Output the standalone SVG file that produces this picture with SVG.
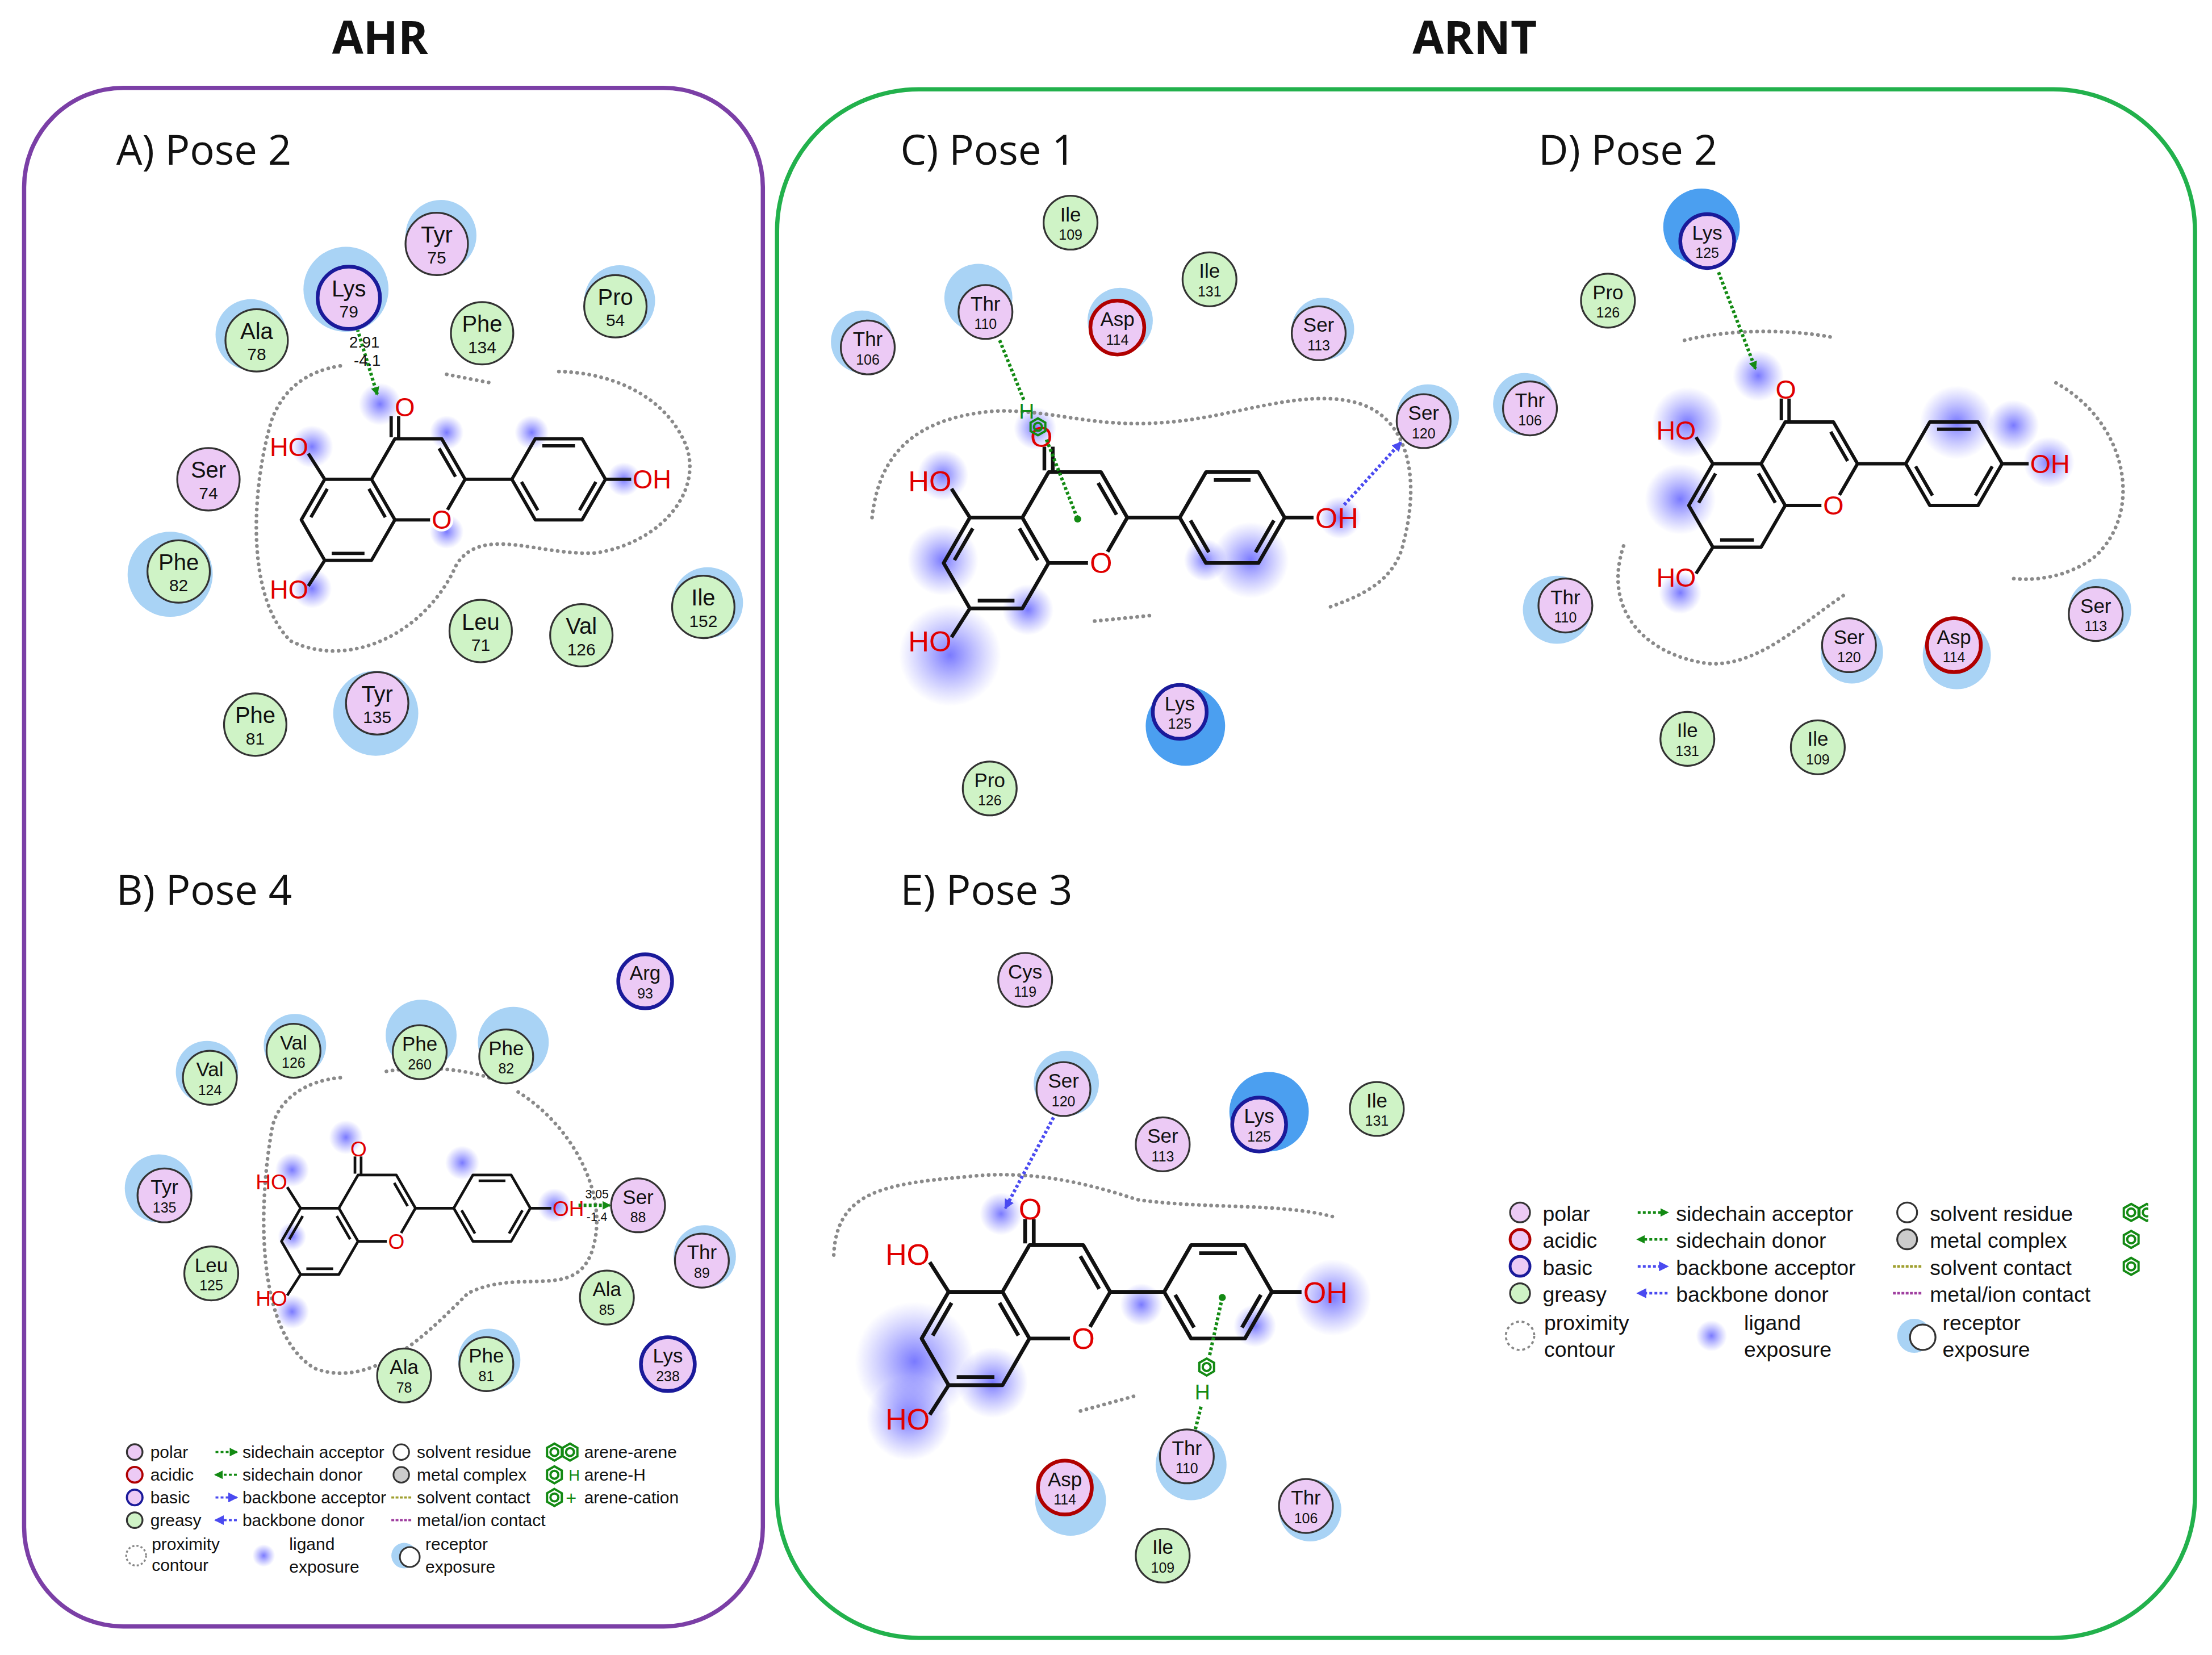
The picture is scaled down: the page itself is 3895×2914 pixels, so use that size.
<svg xmlns="http://www.w3.org/2000/svg" xmlns:xlink="http://www.w3.org/1999/xlink" width="3895" height="2914" viewBox="0 0 3895 2914">
<style>
.pol{fill:#eccaf5;stroke:#333;stroke-width:1.3}
.grs{fill:#cff3c6;stroke:#333;stroke-width:1.3}
.bas{fill:#eccaf5;stroke:#1a1a9a;stroke-width:2.6}
.acd{fill:#eccaf5;stroke:#b00000;stroke-width:2.6}
.exp{fill:#a9d3f5}
.expb{fill:#4b9ff0}
.rn{font-family:"Liberation Sans",Arial,sans-serif;text-anchor:middle;fill:#111}
.t{font-family:"Liberation Sans",Arial,sans-serif;fill:#111}
.h{font-family:"Open Sans","Liberation Sans",sans-serif;fill:#111}
.ml{font-family:"Liberation Sans",Arial,sans-serif;font-size:0.55px;fill:#e00000}
.cont{fill:none;stroke:#8a8a8a;stroke-width:2.6;stroke-dasharray:0.1 4.2;stroke-linecap:round}
.ga{fill:none;stroke:#138a13;stroke-width:2.4;stroke-dasharray:2 1.6}
.ba{fill:none;stroke:#4a4af0;stroke-width:2.4;stroke-dasharray:2 1.6}
</style>
<defs>
<radialGradient id="lex"><stop offset="0" stop-color="#4040ff" stop-opacity="0.7"/><stop offset="1" stop-color="#6060ff" stop-opacity="0"/></radialGradient>
<marker id="mg" markerWidth="6" markerHeight="6" refX="5" refY="3" orient="auto" markerUnits="userSpaceOnUse"><path d="M0,0 L6,3 L0,6 Z" fill="#138a13"/></marker>
<marker id="mb" markerWidth="7" markerHeight="7" refX="6" refY="3.5" orient="auto" markerUnits="userSpaceOnUse"><path d="M0,0 L7,3.5 L0,7 Z" fill="#4a4af0"/></marker>
<g id="mol" fill="none" stroke="#111" stroke-width="0.07" stroke-linejoin="round">
<path d="M-0.5,-0.866 L0.5,-0.866 L1,0 L0.5,0.866 L-0.5,0.866 L-1,0 Z M-1,0 L-2,0 L-2.5,0.866 L-2,1.732 L-1,1.732 L-0.5,0.866 M1,0 L2,0 M2,0 L2.5,-0.866 L3.5,-0.866 L4,0 L3.5,0.866 L2.5,0.866 Z M4,0 L4.55,0 M-2,0 L-2.35,-0.55 M-2,1.732 L-2.35,2.28 M-0.58,-0.9 L-0.58,-1.35 M-0.42,-0.9 L-0.42,-1.35 M-1.945,0.205 L-2.295,0.811 M-1.85,1.582 L-1.15,1.582 M-1.055,0.205 L-0.705,0.811 M0.795,-0.055 L0.445,-0.661 M2.65,-0.716 L3.35,-0.716 M3.795,0.055 L3.445,0.661 M2.555,0.661 L2.205,0.055"/>
<circle cx="0.5" cy="0.866" r="0.25" fill="#fff" stroke="none"/>
</g>
<g id="ar" fill="none" stroke="#138a13" stroke-width="1.6"><polygon points="0,-6 5.2,-3 5.2,3 0,6 -5.2,3 -5.2,-3"/><circle r="2.8"/></g>
<clipPath id="legclip"><rect x="1490" y="840" width="25" height="70"/></clipPath>
</defs>
<g transform="scale(2.4968)">
<g id="frames">
<rect x="17" y="62" width="521" height="1085" rx="70" fill="none" stroke="#7b3fa6" stroke-width="3"/>
<rect x="548" y="63" width="1000" height="1092" rx="100" fill="none" stroke="#22b14c" stroke-width="3"/>
<text class="h" x="268" y="38" font-size="32" font-weight="bold" text-anchor="middle">AHR</text>
<text class="h" x="1040" y="38" font-size="32" font-weight="bold" text-anchor="middle">ARNT</text>
<text class="h" x="82" y="116" font-size="29">A) Pose 2</text>
<text class="h" x="82" y="638" font-size="29">B) Pose 4</text>
<text class="h" x="635" y="116" font-size="29">C) Pose 1</text>
<text class="h" x="1085" y="116" font-size="29">D) Pose 2</text>
<text class="h" x="635" y="638" font-size="29">E) Pose 3</text>
</g>
<g id="exposure">
<circle cx="268" cy="285" r="15" fill="url(#lex)"/><circle cx="220" cy="315" r="15" fill="url(#lex)"/><circle cx="220" cy="415" r="14" fill="url(#lex)"/><circle cx="315" cy="305" r="12" fill="url(#lex)"/><circle cx="375" cy="305" r="12" fill="url(#lex)"/><circle cx="440" cy="338" r="12" fill="url(#lex)"/><circle cx="315" cy="375" r="12" fill="url(#lex)"/>
<circle cx="244" cy="802" r="12" fill="url(#lex)"/><circle cx="206" cy="825" r="12" fill="url(#lex)"/><circle cx="206" cy="925" r="12" fill="url(#lex)"/><circle cx="326" cy="820" r="12" fill="url(#lex)"/><circle cx="391" cy="850" r="12" fill="url(#lex)"/><circle cx="206" cy="872" r="10" fill="url(#lex)"/>
<circle cx="670" cy="462" r="36" fill="url(#lex)"/><circle cx="665" cy="395" r="25" fill="url(#lex)"/><circle cx="665" cy="335" r="18" fill="url(#lex)"/><circle cx="730" cy="302" r="15" fill="url(#lex)"/><circle cx="882" cy="395" r="27" fill="url(#lex)"/><circle cx="850" cy="395" r="15" fill="url(#lex)"/><circle cx="945" cy="365" r="15" fill="url(#lex)"/><circle cx="725" cy="430" r="18" fill="url(#lex)"/>
<circle cx="1190" cy="298" r="25" fill="url(#lex)"/><circle cx="1185" cy="352" r="25" fill="url(#lex)"/><circle cx="1185" cy="418" r="15" fill="url(#lex)"/><circle cx="1240" cy="265" r="18" fill="url(#lex)"/><circle cx="1380" cy="298" r="26" fill="url(#lex)"/><circle cx="1420" cy="300" r="18" fill="url(#lex)"/><circle cx="1445" cy="326" r="18" fill="url(#lex)"/>
<circle cx="645" cy="960" r="42" fill="url(#lex)"/><circle cx="641" cy="1000" r="30" fill="url(#lex)"/><circle cx="700" cy="975" r="25" fill="url(#lex)"/><circle cx="706" cy="856" r="15" fill="url(#lex)"/><circle cx="940" cy="915" r="27" fill="url(#lex)"/><circle cx="805" cy="920" r="15" fill="url(#lex)"/><circle cx="885" cy="935" r="15" fill="url(#lex)"/>
</g>
<g id="contours">
<path class="cont" d="M240,258 C215,262 200,275 192,295 C178,340 172,420 205,452 C245,472 300,448 322,398 C340,370 380,392 420,390 C470,382 498,342 482,310 C465,275 425,262 392,262"/>
<path class="cont" d="M315,264 L346,270"/>
<path class="cont" d="M240,760 C215,762 196,776 192,795 C182,850 180,940 222,965 C262,980 300,942 330,912 C370,892 412,922 420,872 C426,835 400,790 362,768"/>
<path class="cont" d="M345,760 C320,752 290,752 270,756"/>
<path class="cont" d="M615,365 C620,320 645,295 700,290 C740,288 770,302 820,298 C870,295 920,272 960,285 C992,296 1002,335 990,382 C984,410 960,420 938,428"/>
<path class="cont" d="M772,438 L812,434"/>
<path class="cont" d="M1188,240 C1220,232 1262,232 1293,238"/>
<path class="cont" d="M1145,385 C1130,430 1160,462 1205,468 C1240,470 1270,440 1300,420"/>
<path class="cont" d="M1450,270 C1500,298 1512,360 1478,392 C1462,405 1440,410 1420,408"/>
<path class="cont" d="M588,885 C590,842 620,835 680,830 C722,825 760,832 802,846 C852,853 902,848 940,858"/>
<path class="cont" d="M762,995 L802,984"/>
</g>
<g id="ligA" transform="translate(295,338) scale(33)"><use xlink:href="#mol"/>
<text class="ml" x="-0.5" y="-1.35">O</text><text class="ml" x="0.5" y="1.06" text-anchor="middle">O</text><text class="ml" x="-2.35" y="-0.5" text-anchor="end">HO</text><text class="ml" x="-2.35" y="2.55" text-anchor="end">HO</text><text class="ml" x="4.58" y="0.2">OH</text></g>
<g id="ligB" transform="translate(266,852) scale(27)"><use xlink:href="#mol"/>
<text class="ml" x="-0.7" y="-1.35">O</text><text class="ml" x="0.5" y="1.06" text-anchor="middle">O</text><text class="ml" x="-2.35" y="-0.5" text-anchor="end">HO</text><text class="ml" x="-2.35" y="2.55" text-anchor="end">HO</text><text class="ml" x="4.58" y="0.2">OH</text></g>
<g id="ligC" transform="translate(758,365) scale(37)"><use xlink:href="#mol"/>
<text class="ml" x="-0.85" y="-1.35">O</text><text class="ml" x="0.5" y="1.06" text-anchor="middle">O</text><text class="ml" x="-2.35" y="-0.5" text-anchor="end">HO</text><text class="ml" x="-2.35" y="2.55" text-anchor="end">HO</text><text class="ml" x="4.58" y="0.2">OH</text></g>
<g id="ligD" transform="translate(1276,327) scale(34)"><use xlink:href="#mol"/>
<text class="ml" x="-0.7" y="-1.35">O</text><text class="ml" x="0.5" y="1.06" text-anchor="middle">O</text><text class="ml" x="-2.35" y="-0.5" text-anchor="end">HO</text><text class="ml" x="-2.35" y="2.55" text-anchor="end">HO</text><text class="ml" x="4.58" y="0.2">OH</text></g>
<g id="ligE" transform="translate(745,911) scale(38)"><use xlink:href="#mol"/>
<text class="ml" x="-0.7" y="-1.35">O</text><text class="ml" x="0.5" y="1.06" text-anchor="middle">O</text><text class="ml" x="-2.35" y="-0.5" text-anchor="end">HO</text><text class="ml" x="-2.35" y="2.55" text-anchor="end">HO</text><text class="ml" x="4.58" y="0.2">OH</text></g>
<g id="connectors">
<path class="ga" d="M252,232 L266,278" marker-end="url(#mg)"/>
<text class="t" x="257" y="245" font-size="11" text-anchor="middle">2.91</text><text class="t" x="259" y="258" font-size="11" text-anchor="middle">-4.1</text>
<path class="ga" d="M408,850 L430,850" marker-end="url(#mg)"/>
<text class="t" x="421" y="845" font-size="8.5" text-anchor="middle">3.05</text><text class="t" x="421" y="861" font-size="8.5" text-anchor="middle">-1.4</text>
<path class="ga" d="M705,240 L722,282"/>
<text class="t" x="724" y="295" font-size="15" text-anchor="middle" style="fill:#138a13">H</text>
<use xlink:href="#ar" x="732" y="301"/>
<path class="ga" d="M738,310 L760,366"/><circle cx="760" cy="366" r="2.5" fill="#138a13"/>
<path class="ba" d="M948,356 L988,312" marker-end="url(#mb)"/>
<path class="ga" d="M1212,192 L1238,260" marker-end="url(#mg)"/>
<path class="ba" d="M743,788 L709,852" marker-end="url(#mb)"/>
<circle cx="862" cy="915" r="2.5" fill="#138a13"/><path class="ga" d="M862,915 L853,956"/>
<use xlink:href="#ar" x="851" y="964"/>
<text class="t" x="848" y="987" font-size="15" text-anchor="middle" style="fill:#138a13">H</text>
<path class="ga" d="M847,992 L843,1008"/>
</g>
<g id="A-Tyr75"><circle class="exp" cx="311" cy="166" r="25"/><circle class="pol" cx="308" cy="172" r="22"/><text class="rn" x="308" y="171" font-size="16">Tyr</text><text class="rn" x="308" y="186" font-size="12">75</text></g>
<g id="A-Lys79"><circle class="exp" cx="244" cy="204" r="30"/><circle class="bas" cx="246" cy="210" r="22"/><text class="rn" x="246" y="209" font-size="16">Lys</text><text class="rn" x="246" y="224" font-size="12">79</text></g>
<g id="A-Ala78"><circle class="exp" cx="177" cy="236" r="25"/><circle class="grs" cx="181" cy="240" r="22"/><text class="rn" x="181" y="239" font-size="16">Ala</text><text class="rn" x="181" y="254" font-size="12">78</text></g>
<g id="A-Phe134"><circle class="grs" cx="340" cy="235" r="22"/><text class="rn" x="340" y="234" font-size="16">Phe</text><text class="rn" x="340" y="249" font-size="12">134</text></g>
<g id="A-Pro54"><circle class="exp" cx="437" cy="212" r="25"/><circle class="grs" cx="434" cy="216" r="22"/><text class="rn" x="434" y="215" font-size="16">Pro</text><text class="rn" x="434" y="230" font-size="12">54</text></g>
<g id="A-Ser74"><circle class="pol" cx="147" cy="338" r="22"/><text class="rn" x="147" y="337" font-size="16">Ser</text><text class="rn" x="147" y="352" font-size="12">74</text></g>
<g id="A-Phe82"><circle class="exp" cx="120" cy="405" r="30"/><circle class="grs" cx="126" cy="403" r="22"/><text class="rn" x="126" y="402" font-size="16">Phe</text><text class="rn" x="126" y="417" font-size="12">82</text></g>
<g id="A-Leu71"><circle class="grs" cx="339" cy="445" r="22"/><text class="rn" x="339" y="444" font-size="16">Leu</text><text class="rn" x="339" y="459" font-size="12">71</text></g>
<g id="A-Val126"><circle class="grs" cx="410" cy="448" r="22"/><text class="rn" x="410" y="447" font-size="16">Val</text><text class="rn" x="410" y="462" font-size="12">126</text></g>
<g id="A-Ile152"><circle class="exp" cx="499" cy="425" r="25"/><circle class="grs" cx="496" cy="428" r="22"/><text class="rn" x="496" y="427" font-size="16">Ile</text><text class="rn" x="496" y="442" font-size="12">152</text></g>
<g id="A-Tyr135"><circle class="exp" cx="265" cy="503" r="30"/><circle class="pol" cx="266" cy="496" r="22"/><text class="rn" x="266" y="495" font-size="16">Tyr</text><text class="rn" x="266" y="510" font-size="12">135</text></g>
<g id="A-Phe81"><circle class="grs" cx="180" cy="511" r="22"/><text class="rn" x="180" y="510" font-size="16">Phe</text><text class="rn" x="180" y="525" font-size="12">81</text></g>
<g id="B-Arg93"><circle class="bas" cx="455" cy="692" r="19"/><text class="rn" x="455" y="691" font-size="14">Arg</text><text class="rn" x="455" y="704" font-size="10">93</text></g>
<g id="B-Val126"><circle class="exp" cx="208" cy="737" r="22"/><circle class="grs" cx="207" cy="741" r="19"/><text class="rn" x="207" y="740" font-size="14">Val</text><text class="rn" x="207" y="753" font-size="10">126</text></g>
<g id="B-Phe260"><circle class="exp" cx="297" cy="730" r="25"/><circle class="grs" cx="296" cy="742" r="19"/><text class="rn" x="296" y="741" font-size="14">Phe</text><text class="rn" x="296" y="754" font-size="10">260</text></g>
<g id="B-Phe82"><circle class="exp" cx="362" cy="735" r="25"/><circle class="grs" cx="357" cy="745" r="19"/><text class="rn" x="357" y="744" font-size="14">Phe</text><text class="rn" x="357" y="757" font-size="10">82</text></g>
<g id="B-Val124"><circle class="exp" cx="146" cy="756" r="22"/><circle class="grs" cx="148" cy="760" r="19"/><text class="rn" x="148" y="759" font-size="14">Val</text><text class="rn" x="148" y="772" font-size="10">124</text></g>
<g id="B-Tyr135"><circle class="exp" cx="112" cy="838" r="24"/><circle class="pol" cx="116" cy="843" r="19"/><text class="rn" x="116" y="842" font-size="14">Tyr</text><text class="rn" x="116" y="855" font-size="10">135</text></g>
<g id="B-Ser88"><circle class="pol" cx="450" cy="850" r="19"/><text class="rn" x="450" y="849" font-size="14">Ser</text><text class="rn" x="450" y="862" font-size="10">88</text></g>
<g id="B-Thr89"><circle class="exp" cx="497" cy="886" r="22"/><circle class="pol" cx="495" cy="889" r="19"/><text class="rn" x="495" y="888" font-size="14">Thr</text><text class="rn" x="495" y="901" font-size="10">89</text></g>
<g id="B-Leu125"><circle class="grs" cx="149" cy="898" r="19"/><text class="rn" x="149" y="897" font-size="14">Leu</text><text class="rn" x="149" y="910" font-size="10">125</text></g>
<g id="B-Ala85"><circle class="grs" cx="428" cy="915" r="19"/><text class="rn" x="428" y="914" font-size="14">Ala</text><text class="rn" x="428" y="927" font-size="10">85</text></g>
<g id="B-Ala78"><circle class="grs" cx="285" cy="970" r="19"/><text class="rn" x="285" y="969" font-size="14">Ala</text><text class="rn" x="285" y="982" font-size="10">78</text></g>
<g id="B-Phe81"><circle class="exp" cx="345" cy="959" r="22"/><circle class="grs" cx="343" cy="962" r="19"/><text class="rn" x="343" y="961" font-size="14">Phe</text><text class="rn" x="343" y="974" font-size="10">81</text></g>
<g id="B-Lys238"><circle class="bas" cx="471" cy="962" r="19"/><text class="rn" x="471" y="961" font-size="14">Lys</text><text class="rn" x="471" y="974" font-size="10">238</text></g>
<g id="C-Ile109"><circle class="grs" cx="755" cy="157" r="19"/><text class="rn" x="755" y="156" font-size="14">Ile</text><text class="rn" x="755" y="169" font-size="10">109</text></g>
<g id="C-Ile131"><circle class="grs" cx="853" cy="197" r="19"/><text class="rn" x="853" y="196" font-size="14">Ile</text><text class="rn" x="853" y="209" font-size="10">131</text></g>
<g id="C-Thr110"><circle class="exp" cx="690" cy="210" r="24"/><circle class="pol" cx="695" cy="220" r="19"/><text class="rn" x="695" y="219" font-size="14">Thr</text><text class="rn" x="695" y="232" font-size="10">110</text></g>
<g id="C-Asp114"><circle class="exp" cx="790" cy="226" r="23"/><circle class="acd" cx="788" cy="231" r="19"/><text class="rn" x="788" y="230" font-size="14">Asp</text><text class="rn" x="788" y="243" font-size="10">114</text></g>
<g id="C-Ser113"><circle class="exp" cx="933" cy="232" r="22"/><circle class="pol" cx="930" cy="235" r="19"/><text class="rn" x="930" y="234" font-size="14">Ser</text><text class="rn" x="930" y="247" font-size="10">113</text></g>
<g id="C-Thr106"><circle class="exp" cx="608" cy="241" r="22"/><circle class="pol" cx="612" cy="245" r="19"/><text class="rn" x="612" y="244" font-size="14">Thr</text><text class="rn" x="612" y="257" font-size="10">106</text></g>
<g id="C-Ser120"><circle class="exp" cx="1007" cy="293" r="22"/><circle class="pol" cx="1004" cy="297" r="19"/><text class="rn" x="1004" y="296" font-size="14">Ser</text><text class="rn" x="1004" y="309" font-size="10">120</text></g>
<g id="C-Lys125"><circle class="expb" cx="836" cy="512" r="28"/><circle class="bas" cx="832" cy="502" r="19"/><text class="rn" x="832" y="501" font-size="14">Lys</text><text class="rn" x="832" y="514" font-size="10">125</text></g>
<g id="C-Pro126"><circle class="grs" cx="698" cy="556" r="19"/><text class="rn" x="698" y="555" font-size="14">Pro</text><text class="rn" x="698" y="568" font-size="10">126</text></g>
<g id="D-Lys125"><circle class="expb" cx="1200" cy="160" r="27"/><circle class="bas" cx="1204" cy="170" r="19"/><text class="rn" x="1204" y="169" font-size="14">Lys</text><text class="rn" x="1204" y="182" font-size="10">125</text></g>
<g id="D-Pro126"><circle class="grs" cx="1134" cy="212" r="19"/><text class="rn" x="1134" y="211" font-size="14">Pro</text><text class="rn" x="1134" y="224" font-size="10">126</text></g>
<g id="D-Thr106"><circle class="exp" cx="1075" cy="285" r="22"/><circle class="pol" cx="1079" cy="288" r="19"/><text class="rn" x="1079" y="287" font-size="14">Thr</text><text class="rn" x="1079" y="300" font-size="10">106</text></g>
<g id="D-Thr110"><circle class="exp" cx="1098" cy="430" r="24"/><circle class="pol" cx="1104" cy="427" r="19"/><text class="rn" x="1104" y="426" font-size="14">Thr</text><text class="rn" x="1104" y="439" font-size="10">110</text></g>
<g id="D-Ser120"><circle class="exp" cx="1306" cy="460" r="22"/><circle class="pol" cx="1304" cy="455" r="19"/><text class="rn" x="1304" y="454" font-size="14">Ser</text><text class="rn" x="1304" y="467" font-size="10">120</text></g>
<g id="D-Asp114"><circle class="exp" cx="1380" cy="462" r="24"/><circle class="acd" cx="1378" cy="455" r="19"/><text class="rn" x="1378" y="454" font-size="14">Asp</text><text class="rn" x="1378" y="467" font-size="10">114</text></g>
<g id="D-Ser113"><circle class="exp" cx="1481" cy="430" r="22"/><circle class="pol" cx="1478" cy="433" r="19"/><text class="rn" x="1478" y="432" font-size="14">Ser</text><text class="rn" x="1478" y="445" font-size="10">113</text></g>
<g id="D-Ile131"><circle class="grs" cx="1190" cy="521" r="19"/><text class="rn" x="1190" y="520" font-size="14">Ile</text><text class="rn" x="1190" y="533" font-size="10">131</text></g>
<g id="D-Ile109"><circle class="grs" cx="1282" cy="527" r="19"/><text class="rn" x="1282" y="526" font-size="14">Ile</text><text class="rn" x="1282" y="539" font-size="10">109</text></g>
<g id="E-Cys119"><circle class="pol" cx="723" cy="691" r="19"/><text class="rn" x="723" y="690" font-size="14">Cys</text><text class="rn" x="723" y="703" font-size="10">119</text></g>
<g id="E-Ser120"><circle class="exp" cx="752" cy="764" r="23"/><circle class="pol" cx="750" cy="768" r="19"/><text class="rn" x="750" y="767" font-size="14">Ser</text><text class="rn" x="750" y="780" font-size="10">120</text></g>
<g id="E-Ser113"><circle class="pol" cx="820" cy="807" r="19"/><text class="rn" x="820" y="806" font-size="14">Ser</text><text class="rn" x="820" y="819" font-size="10">113</text></g>
<g id="E-Lys125"><circle class="expb" cx="895" cy="784" r="28"/><circle class="bas" cx="888" cy="793" r="19"/><text class="rn" x="888" y="792" font-size="14">Lys</text><text class="rn" x="888" y="805" font-size="10">125</text></g>
<g id="E-Ile131"><circle class="grs" cx="971" cy="782" r="19"/><text class="rn" x="971" y="781" font-size="14">Ile</text><text class="rn" x="971" y="794" font-size="10">131</text></g>
<g id="E-Thr110"><circle class="exp" cx="840" cy="1033" r="25"/><circle class="pol" cx="837" cy="1027" r="19"/><text class="rn" x="837" y="1026" font-size="14">Thr</text><text class="rn" x="837" y="1039" font-size="10">110</text></g>
<g id="E-Asp114"><circle class="exp" cx="755" cy="1058" r="25"/><circle class="acd" cx="751" cy="1049" r="19"/><text class="rn" x="751" y="1048" font-size="14">Asp</text><text class="rn" x="751" y="1061" font-size="10">114</text></g>
<g id="E-Thr106"><circle class="exp" cx="924" cy="1065" r="22"/><circle class="pol" cx="921" cy="1062" r="19"/><text class="rn" x="921" y="1061" font-size="14">Thr</text><text class="rn" x="921" y="1074" font-size="10">106</text></g>
<g id="E-Ile109"><circle class="grs" cx="820" cy="1097" r="19"/><text class="rn" x="820" y="1096" font-size="14">Ile</text><text class="rn" x="820" y="1109" font-size="10">109</text></g>
<g id="legendB">
<circle class="pol" cx="95" cy="1024" r="5.5"/><circle class="acd" cx="95" cy="1040" r="5.5" style="stroke-width:1.5"/><circle class="bas" cx="95" cy="1056" r="5.5" style="stroke-width:1.5"/><circle class="grs" cx="95" cy="1072" r="5.5"/>
<text class="t" x="106" y="1028" font-size="12">polar</text><text class="t" x="106" y="1044" font-size="12">acidic</text><text class="t" x="106" y="1060" font-size="12">basic</text><text class="t" x="106" y="1076" font-size="12">greasy</text>
<circle cx="96" cy="1097" r="7" fill="none" stroke="#888" stroke-width="1.3" stroke-dasharray="1.5 1.5"/>
<text class="t" x="107" y="1093" font-size="12">proximity</text><text class="t" x="107" y="1108" font-size="12">contour</text>
<path class="ga" d="M152,1024 L167,1024" marker-end="url(#mg)" style="stroke-width:1.5"/><path class="ga" d="M167,1040 L152,1040" marker-end="url(#mg)" style="stroke-width:1.5"/>
<path class="ba" d="M152,1056 L167,1056" marker-end="url(#mb)" style="stroke-width:1.5"/><path class="ba" d="M167,1072 L152,1072" marker-end="url(#mb)" style="stroke-width:1.5"/>
<text class="t" x="171" y="1028" font-size="12">sidechain acceptor</text><text class="t" x="171" y="1044" font-size="12">sidechain donor</text><text class="t" x="171" y="1060" font-size="12">backbone acceptor</text><text class="t" x="171" y="1076" font-size="12">backbone donor</text>
<circle cx="186" cy="1097" r="8" fill="url(#lex)"/>
<text class="t" x="204" y="1093" font-size="12">ligand</text><text class="t" x="204" y="1109" font-size="12">exposure</text>
<circle cx="283" cy="1024" r="5.5" fill="#fff" stroke="#333" stroke-width="1.2"/><circle cx="283" cy="1040" r="5.5" fill="#ccc" stroke="#333" stroke-width="1.2"/>
<path d="M276,1056 L290,1056" stroke="#a0a030" stroke-width="1.5" stroke-dasharray="2 1"/><path d="M276,1072 L290,1072" stroke="#a040a0" stroke-width="1.5" stroke-dasharray="2 1"/>
<text class="t" x="294" y="1028" font-size="12">solvent residue</text><text class="t" x="294" y="1044" font-size="12">metal complex</text><text class="t" x="294" y="1060" font-size="12">solvent contact</text><text class="t" x="294" y="1076" font-size="12">metal/ion contact</text>
<circle cx="285" cy="1097" r="9" fill="#a9d3f5"/><circle cx="289" cy="1098" r="7" fill="#fff" stroke="#333" stroke-width="1.2"/>
<text class="t" x="300" y="1093" font-size="12">receptor</text><text class="t" x="300" y="1109" font-size="12">exposure</text>
<use xlink:href="#ar" x="391" y="1024"/><use xlink:href="#ar" x="402" y="1024"/><use xlink:href="#ar" x="391" y="1040"/><use xlink:href="#ar" x="391" y="1056"/>
<text class="t" x="401" y="1044" font-size="11" style="fill:#138a13">H</text><text class="t" x="399" y="1061" font-size="13" style="fill:#138a13">+</text>
<text class="t" x="412" y="1028" font-size="12">arene-arene</text><text class="t" x="412" y="1044" font-size="12">arene-H</text><text class="t" x="412" y="1060" font-size="12">arene-cation</text>
</g>
<g id="legendD">
<circle class="pol" cx="1072" cy="855" r="7"/><circle class="acd" cx="1072" cy="874" r="7" style="stroke-width:2"/><circle class="bas" cx="1072" cy="893" r="7" style="stroke-width:2"/><circle class="grs" cx="1072" cy="912" r="7"/>
<text class="t" x="1088" y="861" font-size="15">polar</text><text class="t" x="1088" y="880" font-size="15">acidic</text><text class="t" x="1088" y="899" font-size="15">basic</text><text class="t" x="1088" y="918" font-size="15">greasy</text>
<circle cx="1072" cy="942" r="10" fill="none" stroke="#888" stroke-width="1.5" stroke-dasharray="2 2"/>
<text class="t" x="1089" y="938" font-size="15">proximity</text><text class="t" x="1089" y="957" font-size="15">contour</text>
<path class="ga" d="M1155,855 L1176,855" marker-end="url(#mg)" style="stroke-width:1.8"/><path class="ga" d="M1176,874 L1155,874" marker-end="url(#mg)" style="stroke-width:1.8"/>
<path class="ba" d="M1155,893 L1176,893" marker-end="url(#mb)" style="stroke-width:1.8"/><path class="ba" d="M1176,912 L1155,912" marker-end="url(#mb)" style="stroke-width:1.8"/>
<text class="t" x="1182" y="861" font-size="15">sidechain acceptor</text><text class="t" x="1182" y="880" font-size="15">sidechain donor</text><text class="t" x="1182" y="899" font-size="15">backbone acceptor</text><text class="t" x="1182" y="918" font-size="15">backbone donor</text>
<circle cx="1207" cy="942" r="11" fill="url(#lex)"/>
<text class="t" x="1230" y="938" font-size="15">ligand</text><text class="t" x="1230" y="957" font-size="15">exposure</text>
<circle cx="1345" cy="855" r="7" fill="#fff" stroke="#333" stroke-width="1.3"/><circle cx="1345" cy="874" r="7" fill="#ccc" stroke="#333" stroke-width="1.3"/>
<path d="M1335,893 L1355,893" stroke="#a0a030" stroke-width="1.8" stroke-dasharray="2 1"/><path d="M1335,912 L1355,912" stroke="#a040a0" stroke-width="1.8" stroke-dasharray="2 1"/>
<text class="t" x="1361" y="861" font-size="15">solvent residue</text><text class="t" x="1361" y="880" font-size="15">metal complex</text><text class="t" x="1361" y="899" font-size="15">solvent contact</text><text class="t" x="1361" y="918" font-size="15">metal/ion contact</text>
<circle cx="1350" cy="942" r="12" fill="#a9d3f5"/><circle cx="1356" cy="943" r="9" fill="#fff" stroke="#333" stroke-width="1.3"/>
<text class="t" x="1370" y="938" font-size="15">receptor</text><text class="t" x="1370" y="957" font-size="15">exposure</text>
<g clip-path="url(#legclip)"><use xlink:href="#ar" x="1503" y="855"/><use xlink:href="#ar" x="1514" y="855"/><use xlink:href="#ar" x="1503" y="874"/><use xlink:href="#ar" x="1503" y="893"/></g>
</g>
</g>
</svg>
